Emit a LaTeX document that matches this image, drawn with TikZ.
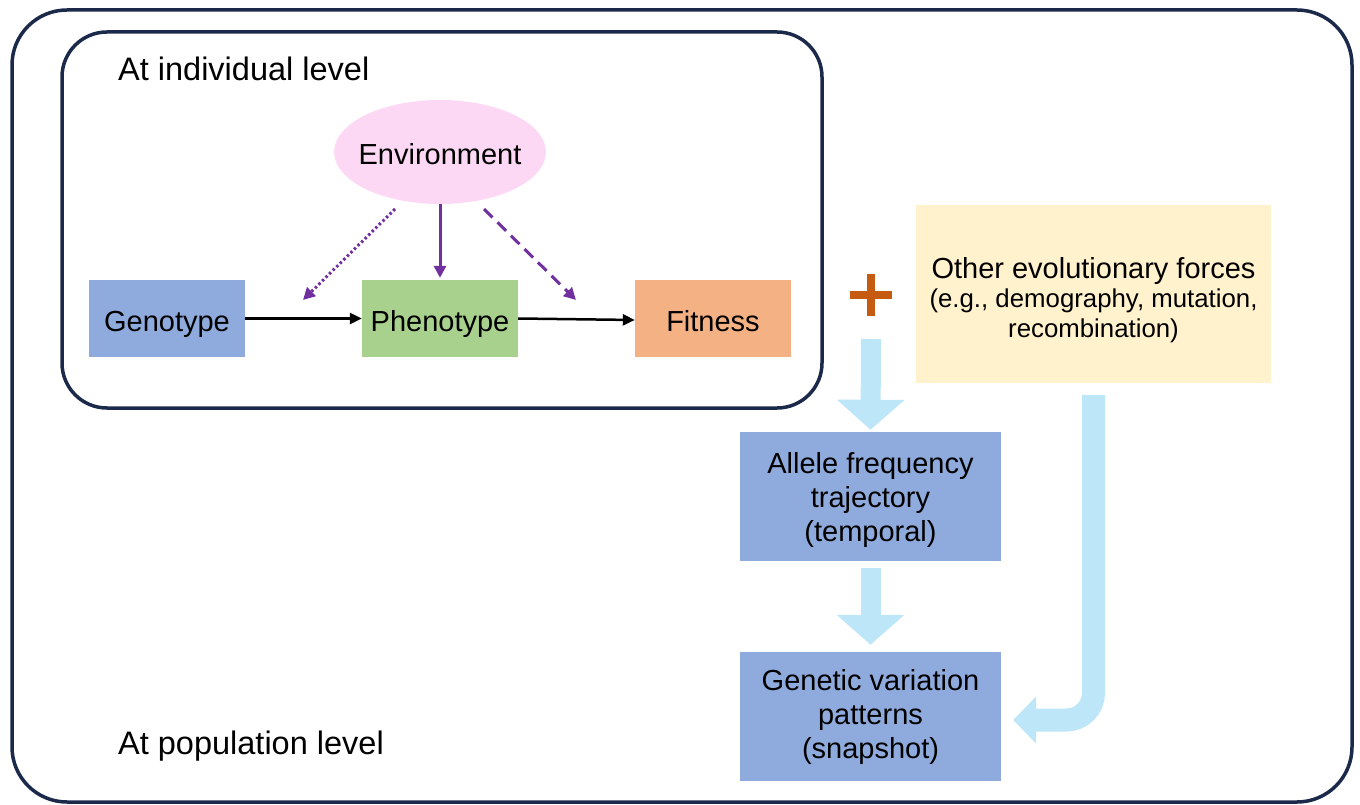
\documentclass[tikz,border=0pt]{standalone}
\usepackage{fontspec}
\setmainfont{Liberation Sans}
\usetikzlibrary{shapes.geometric,arrows.meta}
\definecolor{navy}{HTML}{1B2A4A}
\definecolor{genoblue}{HTML}{8FAADC}
\definecolor{phenogreen}{HTML}{A9D18E}
\definecolor{fitorange}{HTML}{F4B183}
\definecolor{envpink}{HTML}{FCD8F5}
\definecolor{forceyellow}{HTML}{FFF2CC}
\definecolor{lightblue}{HTML}{BDE7F8}
\definecolor{purp}{HTML}{7030A0}
\definecolor{plusorange}{HTML}{C55A11}
\tikzset{
  frame/.style={draw=navy, line width=3.5pt},
  box/.style={draw=none, inner sep=0pt, align=center, font=\fontsize{29}{34}\selectfont},
  onebox/.style={box, text height=25pt, text depth=0pt},
  level/.style={anchor=west, inner sep=0pt, font=\fontsize{32.5}{38}\selectfont},
  blackarrow/.style={draw=black, line width=2.5pt, -{Triangle[length=12pt,width=11pt]}},
  purparrow/.style={draw=purp, line width=3pt, -{Triangle[length=12pt,width=12pt]}},
  bigarrow/.style={draw=lightblue, line width=20pt, -{Triangle[length=30pt,width=66pt]}},
  bentarrow/.style={draw=lightblue, line width=23pt, rounded corners=27pt, -{Triangle[length=23pt,width=46pt]}},
}
\begin{document}
\begin{tikzpicture}[x=1pt,y=-1pt]
\useasboundingbox (0,0) rectangle (1360,805);
% frames
\draw[frame, rounded corners=55pt] (12,10) rectangle (1352,802);
\draw[frame, rounded corners=45pt] (62,32) rectangle (822,408);
\node[level] (indiv) at (118,69) {At individual level};
\node[level] (popu) at (118,746) {At population level};
% individual level
\node[ellipse, fill=envpink, minimum width=210pt, minimum height=104pt, inner xsep=-6.5pt, inner ysep=0pt, text height=25pt, text depth=0pt, font=\fontsize{29}{34}\selectfont] (env) at (440,152) {Environment};
\node[onebox, fill=genoblue, minimum width=156pt, minimum height=77pt] (geno) at (167,318.5) {Genotype};
\node[onebox, fill=phenogreen, minimum width=156pt, minimum height=77pt] (pheno) at (440,318.5) {Phenotype};
\node[onebox, fill=fitorange, minimum width=156pt, minimum height=77pt] (fit) at (713,318.5) {Fitness};
\draw[blackarrow] (geno.east) -- (pheno.west);
\draw[blackarrow] (pheno.east) -- ([yshift=-1.5pt]fit.west);
\draw[purparrow, shorten >=2pt] (env.south) -- (pheno.north);
\coordinate (dots) at (395,209);
\coordinate (dote) at (303,300);
\coordinate (dashs) at (484,209);
\coordinate (dashe) at (576,300);
\draw[purparrow, dash pattern=on 2.5pt off 2.5pt] (dots) -- (dote);
\draw[purparrow, dash pattern=on 12pt off 7pt] (dashs) -- (dashe);
% plus sign
\coordinate (plus) at (871,295);
\draw[plusorange, line width=7.5pt] ([xshift=-21pt]plus) -- ([xshift=21pt]plus);
\draw[plusorange, line width=7.5pt] ([yshift=-21pt]plus) -- ([yshift=21pt]plus);
% other forces
\node[box, fill=forceyellow, minimum width=355pt, minimum height=178pt, font=\fontsize{25.8}{30}\selectfont] (other) at (1093.5,294) {\fontsize{29}{33}\selectfont\rule{0pt}{33pt}Other evolutionary forces\\[-1.5pt](e.g., demography, mutation,\\recombination)};
% population level
\node[box, fill=genoblue, minimum width=261pt, minimum height=129pt] (allele) at (870.5,496.5) {\rule{0pt}{29pt}Allele frequency\\trajectory\\(temporal)};
\node[box, fill=genoblue, minimum width=261pt, minimum height=129pt] (genvar) at (870.5,716.5) {Genetic variation\\patterns\\(snapshot)};
\coordinate (a1s) at (871,339);
\draw[bigarrow, shorten >=2pt] (a1s) -- (allele.north);
\draw[bigarrow, shorten <=7pt, shorten >=7pt] (allele.south) -- (genvar.north);
\draw[bentarrow, shorten <=12pt, shorten >=12pt] (other.south) |- ([yshift=-3.5pt]genvar.east);
\end{tikzpicture}
\end{document}
